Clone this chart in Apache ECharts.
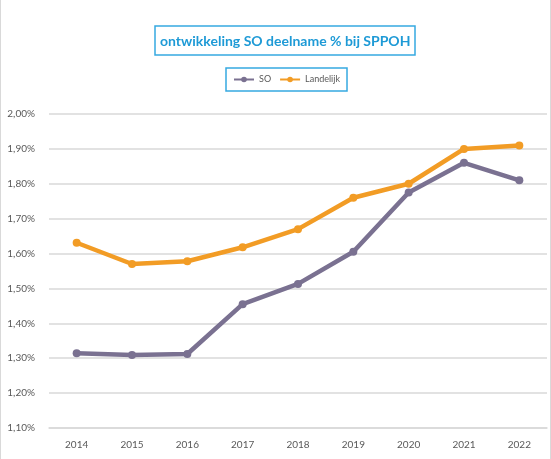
<!DOCTYPE html>
<html>
<head>
<meta charset="utf-8">
<script src="https://cdn.jsdelivr.net/npm/echarts@6/dist/echarts.min.js"></script>
<style>
  html, body { margin: 0; padding: 0; background: #fff; }
  #chart { width: 551px; height: 459px; box-sizing: border-box; border-left: 1px solid #d9d9d9; border-right: 1px solid #d9d9d9; }
</style>
</head>
<body>
<div id="chart"></div>
<script>
// gegevens (in %)
const years = ['2014', '2015', '2016', '2017', '2018', '2019', '2020', '2021', '2022']
const soValues = [1.314, 1.309, 1.312, 1.455, 1.513, 1.605, 1.775, 1.86, 1.81]
const landelijkValues = [1.631, 1.57, 1.578, 1.618, 1.67, 1.76, 1.80, 1.90, 1.91]

const el = document.getElementById('chart')
const chart = echarts.init(el)

const lineSeries = (name, data, color) => ({
  name,
  type: 'line',
  data,
  symbol: 'circle',
  symbolSize: 8,
  lineStyle: { width: 4.5, color },
  itemStyle: { color },
  emphasis: { disabled: true }
})

chart.setOption({
  animation: false,
  title: {
    text: 'ontwikkeling SO deelname % bij SPPOH',
    left: 154,
    top: 26,
    padding: [8, 5, 7, 5],
    borderColor: '#36a9e1',
    borderWidth: 1.5,
    textStyle: {
      color: '#1e9ad6',
      fontFamily: 'Lato',
      fontWeight: 'bold',
      fontSize: 14
    }
  },
  legend: {
    top: 68,
    left: 225,
    padding: [7, 7, 7, 7],
    borderColor: '#36a9e1',
    borderWidth: 1.5,
    itemWidth: 20,
    itemHeight: 7,
    itemGap: 8,
    textStyle: { color: '#595959', fontSize: 9, fontFamily: 'Lato' },
    data: ['SO', 'Landelijk']
  },
  grid: { left: 48, right: 3, top: 114, bottom: 31 },
  xAxis: {
    type: 'category',
    data: years,
    axisLine: { lineStyle: { color: '#d9d9d9', width: 1.5 } },
    axisTick: { show: false },
    axisLabel: { color: '#595959', fontSize: 10, fontFamily: 'Lato', margin: 12 }
  },
  yAxis: {
    type: 'value',
    min: 1.1,
    max: 2.0,
    interval: 0.1,
    axisLine: { show: false },
    axisTick: { show: false },
    splitLine: { lineStyle: { color: '#d9d9d9', width: 1.5 } },
    axisLabel: {
      color: '#595959',
      fontSize: 10,
      fontFamily: 'Lato',
      margin: 14,
      formatter: (v) => v.toFixed(2).replace('.', ',') + '%'
    }
  },
  series: [
    lineSeries('SO', soValues, '#7a7191'),
    lineSeries('Landelijk', landelijkValues, '#f29c25')
  ]
})

window.addEventListener('resize', () => {
  chart.resize()
})
</script>
</body>
</html>
